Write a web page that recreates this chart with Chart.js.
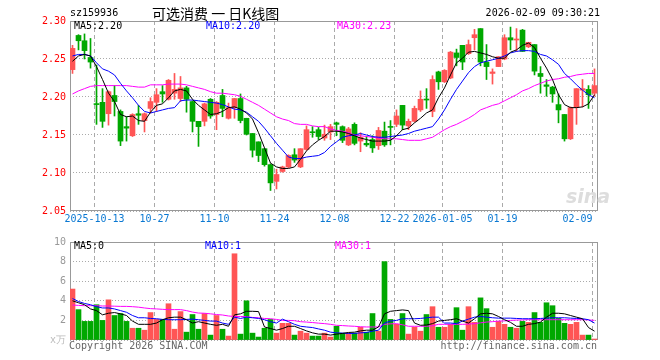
<!DOCTYPE html>
<html>
<head>
<meta charset="utf-8">
<script src="https://cdn.jsdelivr.net/npm/chart.js@4.4.1/dist/chart.umd.min.js"></script>
<style>
  body { margin: 0; background: #fff; width: 660px; height: 360px; overflow: hidden; position: relative;
         font-family: "DejaVu Sans Mono", monospace; font-size: 10px; }
  canvas { position: absolute; left: 0; }
  #kline { top: 0; }
  #vol { top: 232px; }
  .t { position: absolute; white-space: pre; line-height: 12px; }
</style>
</head>
<body>
<canvas id="kline" width="660" height="232"></canvas>
<canvas id="vol" width="660" height="128"></canvas>

<div class="t" style="left:70px;top:7px;color:#000">sz159936</div>
<div class="t" style="left:152px;top:4px;font:14px 'Noto Sans CJK SC';line-height:18px;color:#000">可选消费 一 日K线图</div>
<div class="t" style="right:60px;top:7px;color:#000">2026-02-09 09:30:21</div>
<div class="t" style="left:74px;top:20px;color:#000">MA5:2.20</div>
<div class="t" style="left:206px;top:20px;color:#00f">MA10:2.20</div>
<div class="t" style="left:337px;top:20px;color:#f0f">MA30:2.23</div>
<div class="t" style="left:566px;top:186px;font:italic bold 19px 'DejaVu Sans';line-height:20px;color:#ddd">sina</div>
<div class="t" style="left:74px;top:240px;color:#000">MA5:0</div>
<div class="t" style="left:205px;top:240px;color:#00f">MA10:1</div>
<div class="t" style="left:335px;top:240px;color:#f0f">MA30:1</div>
<div class="t" style="left:69px;top:340px;color:#666">Copyright 2026 SINA.COM</div>
<div class="t" style="right:63px;top:340px;color:#666">http://finance.sina.com.cn</div>

<script>
// ---- data ----
const dateTicks  = [4, 14, 24, 34, 44, 54, 62, 72, 87];
const dateLabels = ['2025-10-13', '10-27', '11-10', '11-24', '12-08', '12-22', '2026-01-05', '01-19', '02-09'];
const priceTicks = [2.05, 2.10, 2.15, 2.20, 2.25, 2.30];
const volTicks   = [0, 2, 4, 6, 8, 10];

const open = [
  2.236, 2.281, 2.274, 2.252, 2.191, 2.193, 2.178, 2.202, 2.181, 2.161,
  2.149, 2.178, 2.169, 2.185, 2.193, 2.207, 2.197, 2.205, 2.198, 2.212,
  2.194, 2.168, 2.168, 2.197, 2.177, 2.202, 2.172, 2.186, 2.198, 2.172,
  2.152, 2.141, 2.132, 2.111, 2.089, 2.102, 2.108, 2.124, 2.108, 2.131,
  2.154, 2.157, 2.146, 2.154, 2.166, 2.161, 2.137, 2.164, 2.142, 2.139,
  2.144, 2.136, 2.155, 2.161, 2.164, 2.189, 2.162, 2.168, 2.183, 2.197,
  2.181, 2.233, 2.220, 2.225, 2.258, 2.268, 2.257, 2.278, 2.290, 2.246,
  2.231, 2.240, 2.250, 2.278, 2.275, 2.288, 2.266, 2.269, 2.231, 2.216,
  2.213, 2.190, 2.177, 2.145, 2.186, 2.209, 2.210, 2.205
];
const close = [
  2.264, 2.274, 2.261, 2.246, 2.190, 2.168, 2.207, 2.194, 2.142, 2.159,
  2.177, 2.176, 2.178, 2.194, 2.203, 2.204, 2.222, 2.210, 2.212, 2.197,
  2.168, 2.161, 2.191, 2.175, 2.193, 2.185, 2.186, 2.198, 2.169, 2.151,
  2.130, 2.123, 2.111, 2.087, 2.098, 2.108, 2.123, 2.117, 2.132, 2.157,
  2.153, 2.148, 2.151, 2.161, 2.164, 2.143, 2.158, 2.139, 2.147, 2.137,
  2.133, 2.156, 2.137, 2.160, 2.175, 2.163, 2.168, 2.185, 2.197, 2.196,
  2.223, 2.220, 2.235, 2.259, 2.252, 2.246, 2.269, 2.282, 2.246, 2.240,
  2.233, 2.253, 2.278, 2.275, 2.276, 2.260, 2.272, 2.234, 2.227, 2.214,
  2.204, 2.183, 2.145, 2.186, 2.211, 2.211, 2.203, 2.215
];
const high = [
  2.268, 2.282, 2.283, 2.277, 2.242, 2.211, 2.208, 2.215, 2.183, 2.174,
  2.178, 2.189, 2.179, 2.199, 2.211, 2.215, 2.223, 2.231, 2.227, 2.214,
  2.195, 2.168, 2.192, 2.198, 2.194, 2.210, 2.192, 2.198, 2.204, 2.172,
  2.152, 2.141, 2.132, 2.112, 2.105, 2.109, 2.124, 2.132, 2.132, 2.162,
  2.161, 2.160, 2.163, 2.164, 2.167, 2.162, 2.160, 2.166, 2.153, 2.148,
  2.149, 2.160, 2.167, 2.169, 2.183, 2.189, 2.171, 2.188, 2.208, 2.211,
  2.228, 2.234, 2.236, 2.260, 2.263, 2.268, 2.275, 2.289, 2.290, 2.269,
  2.237, 2.253, 2.282, 2.292, 2.290, 2.289, 2.272, 2.269, 2.240, 2.223,
  2.214, 2.204, 2.177, 2.187, 2.211, 2.223, 2.215, 2.237
];
const low = [
  2.231, 2.262, 2.250, 2.238, 2.164, 2.160, 2.163, 2.175, 2.136, 2.142,
  2.148, 2.164, 2.154, 2.179, 2.181, 2.193, 2.196, 2.197, 2.194, 2.180,
  2.154, 2.135, 2.162, 2.172, 2.157, 2.174, 2.171, 2.172, 2.166, 2.150,
  2.121, 2.115, 2.109, 2.077, 2.079, 2.101, 2.107, 2.114, 2.107, 2.130,
  2.147, 2.144, 2.143, 2.144, 2.149, 2.140, 2.136, 2.137, 2.128, 2.135,
  2.127, 2.131, 2.135, 2.137, 2.161, 2.157, 2.157, 2.167, 2.181, 2.185,
  2.174, 2.210, 2.219, 2.224, 2.241, 2.236, 2.256, 2.262, 2.241, 2.223,
  2.217, 2.240, 2.249, 2.262, 2.260, 2.260, 2.265, 2.229, 2.205, 2.201,
  2.193, 2.166, 2.142, 2.144, 2.164, 2.187, 2.185, 2.201
];
const ma5 = [
  2.247, 2.254, 2.256, 2.254, 2.240, 2.223, 2.205, 2.194, 2.177, 2.174,
  2.175, 2.169, 2.168, 2.180, 2.189, 2.191, 2.199, 2.208, 2.210, 2.208,
  2.197, 2.189, 2.183, 2.177, 2.178, 2.181, 2.186, 2.187, 2.184, 2.179,
  2.171, 2.153, 2.133, 2.113, 2.108, 2.106, 2.106, 2.108, 2.118, 2.129,
  2.137, 2.143, 2.148, 2.155, 2.155, 2.154, 2.152, 2.149, 2.146, 2.144,
  2.142, 2.142, 2.142, 2.143, 2.149, 2.157, 2.159, 2.166, 2.172, 2.179,
  2.183, 2.199, 2.212, 2.229, 2.245, 2.251, 2.259, 2.260, 2.258, 2.256,
  2.253, 2.251, 2.251, 2.259, 2.262, 2.268, 2.271, 2.265, 2.251, 2.238,
  2.223, 2.203, 2.190, 2.186, 2.186, 2.187, 2.191, 2.203
];
const ma10 = [
  2.254, 2.256, 2.256, 2.254, 2.245, 2.237, 2.234, 2.229, 2.218, 2.208,
  2.199, 2.189, 2.181, 2.179, 2.181, 2.183, 2.185, 2.186, 2.195, 2.196,
  2.196, 2.195, 2.194, 2.193, 2.192, 2.190, 2.187, 2.184, 2.183, 2.180,
  2.174, 2.168, 2.159, 2.149, 2.139, 2.130, 2.121, 2.119, 2.119, 2.121,
  2.122, 2.123, 2.127, 2.135, 2.141, 2.147, 2.149, 2.150, 2.152, 2.150,
  2.148, 2.147, 2.147, 2.148, 2.149, 2.150, 2.152, 2.155, 2.157, 2.159,
  2.161, 2.171, 2.183, 2.197, 2.210, 2.221, 2.232, 2.240, 2.245, 2.247,
  2.249, 2.251, 2.254, 2.258, 2.260, 2.261, 2.261, 2.260, 2.256, 2.254,
  2.249, 2.243, 2.231, 2.224, 2.216, 2.209, 2.203, 2.199
];
const ma30 = [
  2.204, 2.208, 2.211, 2.214, 2.215, 2.215, 2.215, 2.215, 2.215, 2.215,
  2.214, 2.213, 2.213, 2.216, 2.216, 2.216, 2.217, 2.217, 2.217, 2.216,
  2.214, 2.212, 2.210, 2.207, 2.205, 2.205, 2.204, 2.203, 2.201, 2.197,
  2.193, 2.189, 2.184, 2.179, 2.174, 2.171, 2.169, 2.165, 2.164, 2.164,
  2.162, 2.161, 2.161, 2.158, 2.156, 2.155, 2.153, 2.150, 2.149, 2.148,
  2.147, 2.146, 2.145, 2.145, 2.145, 2.144, 2.143, 2.143, 2.143, 2.145,
  2.147, 2.152, 2.157, 2.161, 2.164, 2.168, 2.172, 2.177, 2.183, 2.186,
  2.189, 2.191, 2.195, 2.199, 2.203, 2.208, 2.211, 2.215, 2.218, 2.221,
  2.223, 2.224, 2.226, 2.227, 2.229, 2.230, 2.231, 2.231
];
// volume in 万
const volume = [
  5.2, 3.1, 1.9, 1.9, 3.6, 2.0, 4.1, 2.5, 2.7, 1.9,
  1.2, 1.2, 1.0, 2.8, 2.1, 2.1, 3.7, 1.1, 2.9, 0.8,
  2.6, 1.1, 2.7, 0.5, 2.5, 1.1, 0.4, 8.8, 0.6, 4.0,
  0.7, 0.3, 1.2, 2.1, 0.7, 1.7, 1.7, 0.5, 0.9, 0.7,
  0.4, 0.4, 0.7, 0.3, 1.4, 0.7, 0.7, 0.7, 1.3, 0.8,
  2.7, 0.9, 8.0, 2.1, 1.6, 2.7, 0.6, 1.3, 0.9, 2.6,
  3.4, 1.3, 1.3, 1.6, 3.3, 1.0, 3.4, 1.8, 4.3, 3.2,
  1.3, 1.9, 1.6, 1.3, 1.2, 1.9, 1.8, 2.8, 1.8, 3.8,
  3.5, 2.2, 1.7, 1.6, 1.8, 0.5, 0.5, 0.1
];
const volMa5 = [
  4.0, 3.8, 3.6, 3.17, 3.0, 2.57, 2.73, 2.8, 2.67, 2.5,
  1.93, 1.6, 1.6, 1.6, 1.73, 2.07, 2.27, 2.33, 2.33, 2.07,
  1.73, 1.87, 1.73, 1.6, 1.5, 1.6, 1.4, 2.57, 2.67, 2.93,
  2.93, 2.9, 1.33, 1.17, 1.0, 1.17, 1.4, 1.4, 1.17, 0.93,
  0.73, 0.6, 0.6, 0.5, 0.6, 0.67, 0.77, 0.8, 0.93, 1.0,
  1.0, 1.33, 2.67, 2.93, 3.0, 3.07, 3.0, 1.73, 1.5, 1.53,
  1.67, 1.93, 2.0, 2.07, 2.17, 1.93, 1.73, 2.17, 2.67, 2.73,
  2.67, 2.4, 2.07, 1.8, 1.4, 1.4, 1.6, 1.67, 1.83, 2.33,
  2.73, 2.73, 2.67, 2.5, 2.33, 2.17, 1.27, 0.9
];
const volMa10 = [
  4.23, 3.93, 3.73, 3.6, 3.4, 3.27, 3.27, 3.17, 3.0, 2.83,
  2.5, 2.27, 2.27, 2.2, 2.17, 2.1, 2.07, 2.07, 2.07, 2.1,
  2.13, 2.07, 2.0, 1.93, 1.93, 1.73, 1.6, 2.33, 2.2, 2.33,
  2.27, 2.2, 2.07, 1.87, 1.73, 2.13, 1.87, 1.6, 1.4, 1.33,
  1.27, 1.13, 1.0, 0.8, 0.73, 0.7, 0.67, 0.67, 0.73, 0.77,
  0.9, 1.0, 1.73, 1.93, 2.0, 2.17, 2.17, 2.17, 2.2, 2.27,
  2.33, 2.33, 1.73, 1.73, 1.67, 1.93, 2.13, 2.33, 2.4, 2.33,
  2.27, 2.23, 2.23, 2.23, 2.2, 2.17, 2.17, 2.17, 2.2, 2.23,
  2.27, 2.27, 2.27, 2.23, 2.2, 2.17, 2.07, 1.73
];
const volMa30 = [
  3.57, 3.53, 3.5, 3.5, 3.5, 3.47, 3.47, 3.45, 3.43, 3.43,
  3.4, 3.35, 3.27, 3.2, 3.17, 3.13, 3.1, 3.1, 3.1, 3.0,
  2.85, 2.75, 2.73, 2.67, 2.6, 2.55, 2.45, 2.4, 2.4, 2.38,
  2.3, 2.27, 2.2, 2.17, 2.1, 2.0, 2.0, 1.97, 1.87, 1.83,
  1.78, 1.72, 1.67, 1.6, 1.5, 1.47, 1.43, 1.4, 1.35, 1.33,
  1.33, 1.33, 1.6, 1.65, 1.67, 1.55, 1.4, 1.4, 1.4, 1.4,
  1.45, 1.6, 1.6, 1.6, 1.6, 1.6, 1.62, 1.67, 1.75, 1.83,
  1.87, 1.93, 1.95, 2.0, 2.03, 2.05, 2.07, 2.07, 2.07, 2.07,
  2.07, 2.07, 2.07, 2.07, 2.07, 2.07, 2.05, 2.0
];

// ---- styling ----
const RED = '#ff5555';
const GREEN = '#00a800';
const GRID = '#aaa';
const n = open.length;
const idx = open.map((_, i) => i);
const candleColor = idx.map(i => close[i] >= open[i] ? RED : GREEN);

Chart.defaults.font.family = '"DejaVu Sans Mono", monospace';
Chart.defaults.font.size = 10;
Chart.defaults.animation = false;

// gray frame around the plot area
const frame = {
  id: 'frame',
  beforeDatasetsDraw(chart) {
    const a = chart.chartArea, ctx = chart.ctx;
    ctx.save();
    ctx.strokeStyle = '#999';
    ctx.lineWidth = 1;
    ctx.strokeRect(a.left + 0.5, a.top + 0.5, a.right - a.left - 1, a.bottom - a.top - 1);
    ctx.restore();
  }
};

function xAxis(showLabels) {
  return {
    type: 'linear',
    min: -5 / 12,
    max: n - 5 / 12,
    offset: false,
    afterBuildTicks: s => { s.ticks = dateTicks.map(i => ({ value: i - 1 / 3 })); },
    afterFit: s => { s.height = showLabels ? 21 : 0; },
    grid: { color: GRID, drawTicks: false, offset: false },
    border: { display: false, dash: [4, 3] },
    ticks: {
      display: showLabels,
      autoSkip: false,
      maxRotation: 0,
      padding: 2,
      color: '#0a78d2',
      // last label sits left of its line, like the original
      callback: (v, i) => i === dateLabels.length - 1 ? dateLabels[i] + '     ' : dateLabels[i]
    }
  };
}

function line(data, color) {
  return {
    type: 'line',
    data: idx.map(i => ({ x: i, y: data[i] })),
    borderColor: color,
    borderWidth: 1,
    pointRadius: 0,
    tension: 0,
    order: 0
  };
}

new Chart(document.getElementById('kline'), {
  type: 'bar',
  data: {
    datasets: [
      line(ma5, '#000'),
      line(ma10, '#00f'),
      line(ma30, '#f0f'),
      {
        data: idx.map(i => ({ x: i, y: [open[i], close[i]] })),
        backgroundColor: candleColor,
        barThickness: 5,
        minBarLength: 1,
        grouped: false,
        order: 1
      },
      {
        data: idx.map(i => ({ x: i, y: [low[i], high[i]] })),
        backgroundColor: candleColor,
        barThickness: 1,
        grouped: false,
        order: 2
      }
    ]
  },
  options: {
    responsive: false,
    events: [],
    layout: { padding: { left: 0, right: 62, top: 21, bottom: 0 } },
    plugins: { legend: { display: false }, tooltip: { enabled: false } },
    scales: {
      x: xAxis(true),
      y: {
        min: 2.05,
        max: 2.30,
        beginAtZero: false,
        afterBuildTicks: s => { s.ticks = priceTicks.map(v => ({ value: v })); },
        afterFit: s => { s.width = 70; },
        grid: { color: GRID, drawTicks: false },
        border: { display: false, dash: [1, 2] },
        ticks: { color: '#f00', padding: 4, callback: v => v.toFixed(2) }
      }
    }
  },
  plugins: [frame]
});

new Chart(document.getElementById('vol'), {
  type: 'bar',
  data: {
    datasets: [
      line(volMa5, '#000'),
      line(volMa10, '#00f'),
      line(volMa30, '#f0f'),
      {
        data: idx.map(i => ({ x: i, y: volume[i] })),
        backgroundColor: candleColor,
        barThickness: 5,
        grouped: false,
        order: 1
      }
    ]
  },
  options: {
    responsive: false,
    events: [],
    layout: { padding: { left: 0, right: 62, top: 8, bottom: 20 } },
    plugins: { legend: { display: false }, tooltip: { enabled: false } },
    scales: {
      x: xAxis(false),
      y: {
        min: 0,
        max: 10,
        afterBuildTicks: s => { s.ticks = volTicks.map(v => ({ value: v })); },
        afterFit: s => { s.width = 70; },
        grid: { color: GRID, drawTicks: false },
        border: { display: false, dash: [1, 2] },
        ticks: {
          padding: 4,
          color: c => c.tick && c.tick.value === 0 ? '#bbb' : '#999',
          callback: v => v === 0 ? 'x万' : String(v)
        }
      }
    }
  },
  plugins: [frame]
});
</script>
</body>
</html>
